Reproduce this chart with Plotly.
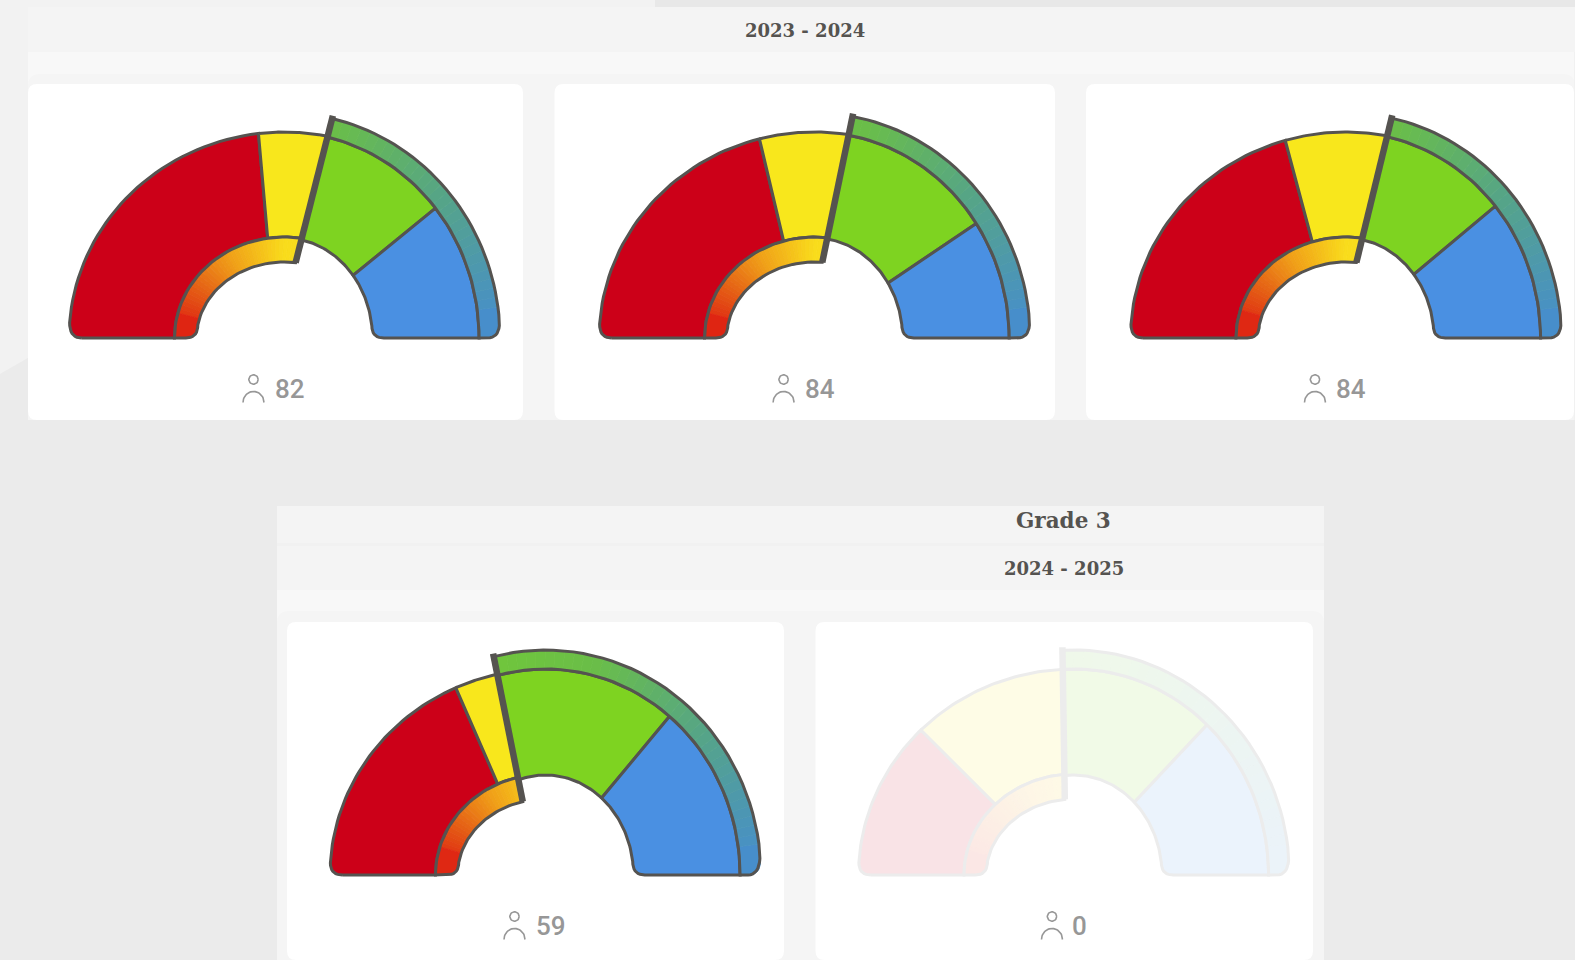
import numpy as np
import plotly.graph_objects as go

# ---- data ----
COUNTS = [82, 84, 84, 59, 0]
RED = [47.2, 42.6, 41.7, 36.9, 25.0]
YELLOW = [10.7, 13.9, 15.9, 6.8, 24.5]
GREEN = [20.3, 24.6, 20.2, 28.4, 24.5]
BLUE = [21.8, 18.9, 22.2, 27.9, 26.0]
YEAR_LABELS = ["2023 - 2024", "2024 - 2025"]
GRADE_LABEL = "Grade 3"

# ---- layout / style ----
W, H = 1575, 960
CENTERS = [(284.5, 338), (814.6, 338), (1346, 338), (545.5, 875), (1074, 875)]
OPACITY = [1, 1, 1, 1, 0.11]
C_RED, C_YEL, C_GRN, C_BLU = "#cc0018", "#f8e71c", "#7ed321", "#4a90e2"
EDGE = "#555350"
GREY = "#979797"
X0 = -8.0            # origin of the gauge's rays
RX, RY = 225, 235    # axis half-extent above base
YLOW = -75
E_LEFT_IN, E_LEFT_OUT = (110, 101), (215.5, 206)
E_RIGHT_IN, E_RIGHT_OUT = (88, 100), (194.6, 206)
E_RING_R = (215.5, 225)
E_RING_L_IN = (88, 76)
CORNER = 12.0


def ray_hit(e, phi):
    rx, ry = e
    a = np.radians(phi)
    c, s = np.cos(a), np.sin(a)
    A = (c / rx) ** 2 + (s / ry) ** 2
    B = 2 * X0 * c / rx ** 2
    C = (X0 / rx) ** 2 - 1
    d = (-B + np.sqrt(B * B - 4 * A * C)) / (2 * A)
    return X0 + d * c, d * s


def arc(e, p1, p2, n=60):
    rx, ry = e
    x1, y1 = ray_hit(e, p1)
    x2, y2 = ray_hit(e, p2)
    t1 = np.arctan2(max(y1, 0) / ry, x1 / rx)
    t2 = np.arctan2(max(y2, 0) / ry, x2 / rx)
    t = np.linspace(t1, t2, n)
    return rx * np.cos(t), ry * np.sin(t)


def round_end(xs, ys, toward):
    """Append a quadratic corner at the base; toward=+1 means the foot moves to +x."""
    xs, ys = np.array(xs), np.array(ys)
    flip = ys[0] < ys[-1]
    if flip:
        xs, ys = xs[::-1], ys[::-1]
    keep = ys >= CORNER
    xs, ys = xs[keep], ys[keep]
    px_, py_ = xs[-1], ys[-1]
    u = np.linspace(0, 1, 10)
    ex = px_ + toward * CORNER
    bx = (1 - u) ** 2 * px_ + 2 * u * (1 - u) * px_ + u ** 2 * ex
    by = (1 - u) ** 2 * py_
    xs, ys = np.r_[xs, bx], np.r_[ys, by]
    if flip:
        xs, ys = xs[::-1], ys[::-1]
    return xs, ys


def band(e_in, e_out, p1, p2, round_in=None, round_out=None, n=40):
    xo, yo = arc(e_out, p1, p2, n)
    xi, yi = arc(e_in, p1, p2, n)
    if round_out is not None:
        xo, yo = round_end(xo, yo, round_out)
    if round_in is not None:
        xi, yi = round_end(xi, yi, round_in)
    return np.r_[xo, xi[::-1], xo[0]], np.r_[yo, yi[::-1], yo[0]]


def to_rgb(c):
    c = c.lstrip("#")
    return tuple(int(c[k:k + 2], 16) for k in (0, 2, 4))


def fade(rgb, op):
    """Colour drawn at opacity op on the white card, as a solid colour."""
    return "rgb({},{},{})".format(*[int(round(255 + (v - 255) * op)) for v in rgb])


def mix(stops, phi):
    ps = [s[0] for s in stops]
    return tuple(np.interp(phi, ps, [s[1][k] for s in stops]) for k in range(3))


L_STOPS = [(85, (249, 220, 28)), (120, (240, 160, 24)), (150, (228, 90, 20)), (180, (221, 21, 18))]
R_STOPS = [(0, (69, 140, 210)), (40, (85, 164, 136)), (75, (106, 190, 72)), (110, (114, 200, 56))]


def px(x):
    return x / W


def py(y):
    return 1 - y / H


def rrect(x0, y0, x1, y1, r, fill):
    a, b, c, d = px(x0), py(y0), px(x1), py(y1)
    rx_, ry_ = r / W, r / H
    path = (f"M{a+rx_},{b} L{c-rx_},{b} Q{c},{b} {c},{b-ry_} L{c},{d+ry_} Q{c},{d} {c-rx_},{d} "
            f"L{a+rx_},{d} Q{a},{d} {a},{d+ry_} L{a},{b-ry_} Q{a},{b} {a+rx_},{b} Z")
    return dict(type="path", path=path, xref="paper", yref="paper", fillcolor=fill,
                line=dict(width=0), layer="below")


def rect(x0, y0, x1, y1, fill):
    return dict(type="rect", x0=px(x0), x1=px(x1), y0=py(y1), y1=py(y0), xref="paper",
                yref="paper", fillcolor=fill, line=dict(width=0), layer="below")


def poly(pts, fill):
    path = "M" + " L".join(f"{px(a)},{py(b)}" for a, b in pts) + " Z"
    return dict(type="path", path=path, xref="paper", yref="paper", fillcolor=fill,
                line=dict(width=0), layer="below")


CARDS = [(28, 84, 523, 420), (554.5, 84, 1055, 420), (1086, 84, 1574, 420),
         (287, 622, 784, 960), (815.5, 622, 1313, 960)]
shapes = [
    poly([(0, 0), (665, 0), (655, 7), (1575, 7), (1575, 52), (28, 52), (28, 358), (0, 374)], "#f2f2f2"),
    poly([(655, 0), (1575, 0), (1575, 7), (655, 7)], "#e8e8e8"),
    rect(28, 7, 1575, 52, "#f4f4f4"),
    rect(28, 52, 1575, 420, "#f8f8f8"),
    rect(277, 506, 1324, 543, "#f4f4f4"),
    rect(277, 546, 1324, 590, "#f4f4f4"),
    rect(277, 543, 1324, 546, "#f1f1f1"),
    rect(277, 590, 1324, 960, "#f8f8f8"),
]
# soft halo round the row of cards
shapes.append(rrect(28, 74, 1575, 430, 12, "#f5f5f5"))
shapes.append(rrect(277, 611, 1324, 970, 12, "#f5f5f5"))
shapes.append(rect(0, 420, 1575, 506, "#ebebeb"))
shapes.append(rect(0, 420, 277, 960, "#ebebeb"))
shapes.append(rect(1324, 420, 1575, 960, "#ebebeb"))
shapes.append(poly([(0, 358), (28, 358), (28, 420), (0, 420)], "#ebebeb"))
shapes.append(poly([(0, 0), (28, 0), (28, 358), (0, 374)], "#f2f2f2"))
shapes.append(rect(1574, 52, 1575, 420, "#f1f1f1"))
for c in CARDS:
    shapes.append(rrect(c[0], c[1], c[2], c[3], 9, "#ffffff"))

fig = go.Figure()
layout = {}
annotations = []


def add(x, y, idx, fill=None, lw=3.0, color=None):
    xr, yr = ("x", "y") if idx == 0 else (f"x{idx+1}", f"y{idx+1}")
    color = color or fade(to_rgb(EDGE), OPACITY[idx])
    kw = dict(x=x, y=y, xaxis=xr, yaxis=yr, mode="lines", hoverinfo="skip",
              showlegend=False, line=dict(color=color, width=lw))
    if fill:
        kw["fill"] = "toself"
        kw["fillcolor"] = fill
    fig.add_trace(go.Scatter(**kw))


for i, (cx, base) in enumerate(CENTERS):
    sfx = "" if i == 0 else str(i + 1)
    layout["xaxis" + sfx] = dict(domain=[px(cx - RX), px(cx + RX)], range=[-RX, RX], visible=False,
                                 fixedrange=True, anchor="y" + sfx)
    layout["yaxis" + sfx] = dict(domain=[py(base - YLOW), py(base - RY)], range=[YLOW, RY], visible=False,
                                 fixedrange=True, anchor="x" + sfx)
    op = OPACITY[i]
    a = 180 * (1 - RED[i] / 100)
    n = 180 * (1 - (RED[i] + YELLOW[i]) / 100)
    b = 180 * (BLUE[i] / 100)

    # left-hand segments
    x, y = band(E_LEFT_IN, E_LEFT_OUT, 180, a, round_out=1)
    add(x, y, i, fill=fade(to_rgb(C_RED), op))
    x, y = band(E_LEFT_IN, E_LEFT_OUT, a, n)
    add(x, y, i, fill=fade(to_rgb(C_YEL), op))
    # right-hand segments
    x, y = band(E_RIGHT_IN, E_RIGHT_OUT, n, b)
    add(x, y, i, fill=fade(to_rgb(C_GRN), op))
    x, y = band(E_RIGHT_IN, E_RIGHT_OUT, b, 0, round_in=1)
    add(x, y, i, fill=fade(to_rgb(C_BLU), op))

    # inner gradient ring, red to yellow, left of the pointer
    edges = np.r_[np.arange(n, 166, 2.5), 180.0]
    for p1, p2 in zip(edges[:-1], edges[1:]):
        xx, yy = band(E_RING_L_IN, E_LEFT_IN, p1, p2, round_in=-1 if p2 == 180 else None, n=12)
        col = fade(mix(L_STOPS, (p1 + p2) / 2), op)
        add(xx, yy, i, fill=col, lw=0.8, color=col)
    x, y = band(E_RING_L_IN, E_LEFT_IN, n, 180, round_in=-1)
    add(x, y, i)

    # outer gradient ring, green to blue, right of the pointer
    edges = np.r_[0.0, np.arange(8, n, 2.5), n]
    for p1, p2 in zip(edges[:-1], edges[1:]):
        xx, yy = band(E_RIGHT_OUT, E_RING_R, p2, p1, round_out=-1 if p1 == 0 else None, n=12)
        col = fade(mix(R_STOPS, (p1 + p2) / 2), op)
        add(xx, yy, i, fill=col, lw=0.8, color=col)
    x, y = band(E_RIGHT_OUT, E_RING_R, n, 0, round_out=-1)
    add(x, y, i)

    # pointer
    p_in = ray_hit(E_RING_L_IN, n)
    p_out = ray_hit((218, 228), n)
    add([p_in[0], p_out[0]], [p_in[1], p_out[1]], i, lw=6.5)

    # head-count icon and label
    ix = -13 - 9 * len(str(COUNTS[i]))
    t = np.linspace(0, 2 * np.pi, 40)
    add(ix + 4.7 * np.cos(t), -41.5 + 4.7 * np.sin(t), i, lw=1.6, color=GREY)
    t = np.linspace(0, np.pi, 30)
    add(ix + 10.5 * np.cos(t), -64.5 + 11 * np.sin(t), i, lw=1.6, color=GREY)
    annotations.append(dict(x=5, y=-51, xref="x" + sfx, yref="y" + sfx, text=str(COUNTS[i]), showarrow=False,
                            xanchor="center", yanchor="middle",
                            font=dict(family="Roboto", size=26, color=GREY, weight=500)))

SERIF = "DejaVu Serif"
annotations += [
    dict(x=px(804.6), y=py(30), text=YEAR_LABELS[0],
         font=dict(family=SERIF, size=18, color="#555350", weight="bold")),
    dict(x=px(1063.8), y=py(568), text=YEAR_LABELS[1],
         font=dict(family=SERIF, size=18, color="#555350", weight="bold")),
    dict(x=px(1063.8), y=py(520), text=GRADE_LABEL,
         font=dict(family=SERIF, size=21.5, color="#555350", weight="bold")),
]
for an in annotations[-3:]:
    an.update(xref="paper", yref="paper", showarrow=False, xanchor="center", yanchor="middle")

fig.update_layout(width=W, height=H, margin=dict(l=0, r=0, t=0, b=0), paper_bgcolor="#ebebeb",
                  plot_bgcolor="rgba(0,0,0,0)", shapes=shapes, annotations=annotations, **layout)
fig.write_html("out.html", config=dict(displayModeBar=False),
               post_script="document.body.style.margin='0';document.body.style.overflow='hidden';")
